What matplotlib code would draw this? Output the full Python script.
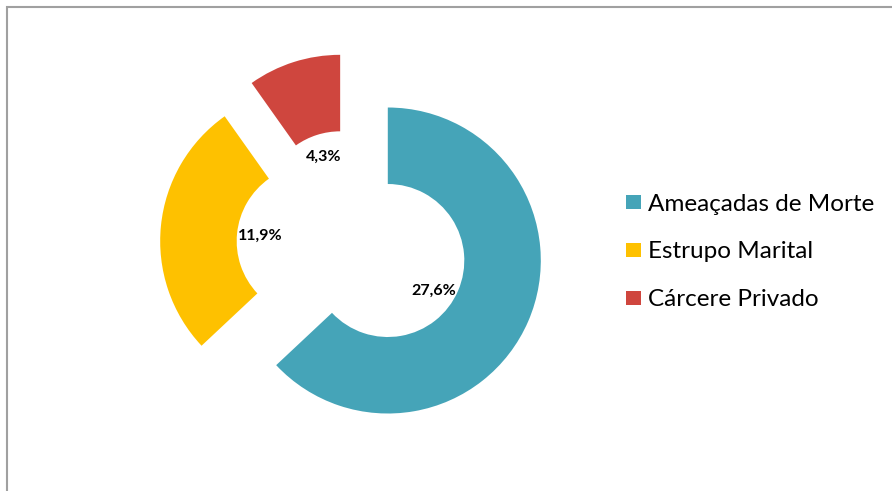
import matplotlib.pyplot as plt
from matplotlib.patches import Rectangle

categories = ["Ameaçadas de Morte", "Estrupo Marital", "Cárcere Privado"]
values = [27.6, 11.9, 4.3]
colors = ["#45A4B8", "#FEC100", "#CF463E"]

W, H = 892, 491
R_PX = 153            # outer radius in pixels
CX, CY = 352, 245     # donut centre (pixels from top-left)

fig = plt.figure(figsize=(W / 100, H / 100), dpi=100)
ax = fig.add_axes([0, 0, 1, 1])

total = sum(values)
wedges, _, autotexts = ax.pie(
    values,
    colors=colors,
    startangle=90,
    counterclock=False,
    radius=1.0,
    explode=[0.255] * len(values),
    wedgeprops=dict(width=0.5, linewidth=0),
    autopct=lambda p: f"{p * total / 100:.1f}".replace(".", ",") + "%",
    pctdistance=0.35,
    textprops=dict(fontsize=11.5, fontweight="bold", family="Lato", color="black"),
)
# first label sits a little lower in the hole
x, y = autotexts[0].get_position()
autotexts[0].set_position((x - 0.02, y - 0.06))

# 1 data unit == R_PX pixels on both axes
ax.set_xlim(-CX / R_PX, (W - CX) / R_PX)
ax.set_ylim(-(H - CY) / R_PX, CY / R_PX)
ax.set_aspect("auto")
ax.axis("off")

leg = fig.legend(
    wedges, categories,
    loc="center left",
    bbox_to_anchor=(626 / W, 1 - 252 / H),
    frameon=False,
    borderpad=0, borderaxespad=0,
    handlelength=0.62, handleheight=0.5,
    handletextpad=0.3, labelspacing=1.1,
    prop=dict(family="Lato", size=17.5),
)

# chart area border (only left and top edges fall inside the image)
fig.add_artist(Rectangle((6.8 / W, -0.05), 1.1, (H - 6.8) / H + 0.05,
                         transform=fig.transFigure, fill=False,
                         edgecolor="#A0A0A0", linewidth=1.5))

fig.savefig("out.png", dpi=100)
